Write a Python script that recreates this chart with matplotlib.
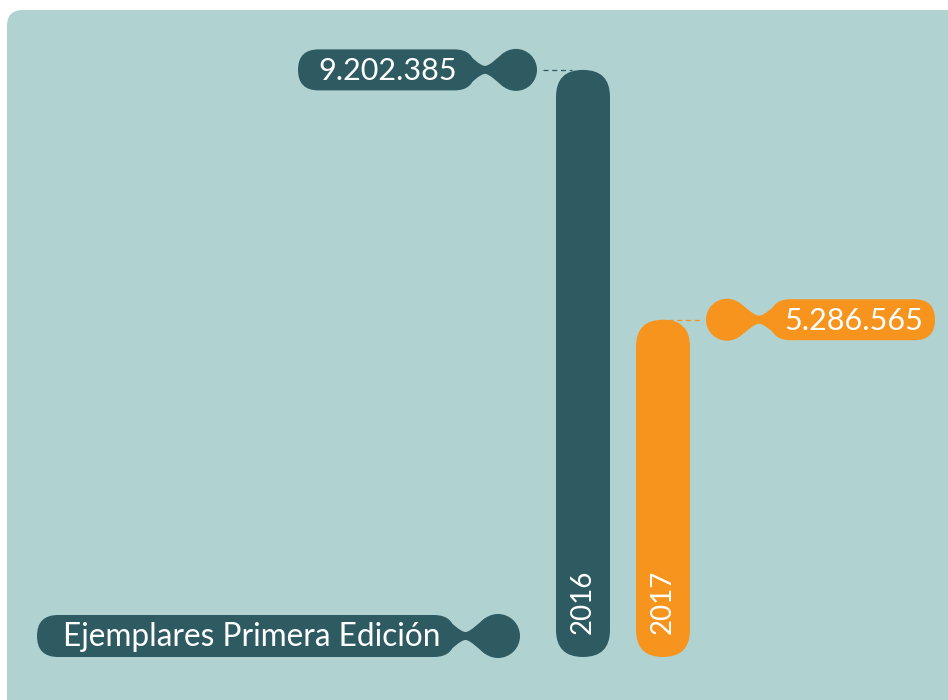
import matplotlib
matplotlib.use("Agg")
import numpy as np
import matplotlib.pyplot as plt
from matplotlib.patches import FancyBboxPatch, Circle, PathPatch
from matplotlib.path import Path
from matplotlib.lines import Line2D
from matplotlib.transforms import IdentityTransform

years = ["2016", "2017"]
values = [9202385, 5286565]
labels = ["9.202.385", "5.286.565"]
legend_label = "Ejemplares Primera Edición"

BG = "#b0d3d2"
DARK = "#2e5a61"
ORANGE = "#f7941e"
colors = [DARK, ORANGE]
FONT = "Lato"

W, H = 948, 700
fig = plt.figure(figsize=(W / 100, H / 100), dpi=100, facecolor="white")
I = IdentityTransform()

# background panel
fig.add_artist(FancyBboxPatch((7, -60), 1100, 750, boxstyle="round,pad=0,rounding_size=16",
                              fc=BG, ec="none", transform=I, zorder=0))

ax = fig.add_axes([0, 43 / 700, 1, 638 / 700])
ax.set_xlim(-583 / 80, 365 / 80)
ax.set_ylim(0, 1e7)
ax.axis("off")
ax.patch.set_visible(False)

BW = 54  # bar width in pixels
R = BW / 2


def neck_path(lcx, lr, rcx, rr, cy, neck=4.0, alpha=np.radians(55), L=6.0, L2=5.0):
    """Smooth neck between a left circle (lcx, lr) and a right circle (rcx, rr)."""
    sa, ca = np.sin(alpha), np.cos(alpha)
    xm = ((lcx + lr) + (rcx - rr)) / 2
    verts, codes = [], []
    for sgn in (1, -1):
        pl = np.array([lcx + lr * ca, cy + sgn * lr * sa])
        pr = np.array([rcx - rr * ca, cy + sgn * rr * sa])
        m = np.array([xm, cy + sgn * neck])
        if sgn == 1:
            seq = [pl, pl + L * np.array([sa, -sgn * ca]), m - [L2, 0], m,
                   m + [L2, 0], pr - L * np.array([sa, sgn * ca]), pr]
            verts += [tuple(p) for p in seq]
            codes += [Path.MOVETO] + [Path.CURVE4] * 6
        else:
            seq = [pr, pr - L * np.array([sa, sgn * ca]), m + [L2, 0], m,
                   m - [L2, 0], pl + L * np.array([sa, -sgn * ca]), pl]
            verts += [tuple(p) for p in seq]
            codes += [Path.LINETO] + [Path.CURVE4] * 6
    verts.append(verts[0])
    codes.append(Path.CLOSEPOLY)
    return Path(verts, codes)


def bubble(pill_l, pill_r, cx, cy, color, r_c=21, h=41, z=3):
    r_p = h / 2
    fig.add_artist(FancyBboxPatch((pill_l, cy - r_p), pill_r - pill_l, h,
                                  boxstyle=f"round,pad=0,rounding_size={r_p}",
                                  fc=color, ec="none", transform=I, zorder=z))
    fig.add_artist(Circle((cx, cy), r_c, fc=color, ec="none", transform=I, zorder=z))
    if pill_r < cx:
        p = neck_path(pill_r - r_p, r_p, cx, r_c, cy)
    else:
        p = neck_path(cx, r_c, pill_l + r_p, r_p, cy)
    fig.add_artist(PathPatch(p, fc=color, ec="none", transform=I, zorder=z))


for i, (yr, v, lab, c) in enumerate(zip(years, values, labels, colors)):
    xc, y0 = ax.transData.transform((i, 0))
    _, y1 = ax.transData.transform((i, v))
    fig.add_artist(FancyBboxPatch((xc - R, y0), BW, y1 - y0,
                                  boxstyle=f"round,pad=0,rounding_size={R}",
                                  fc=c, ec="none", transform=I, zorder=4))
    fig.text(xc, y0 + 23, yr, rotation=90, ha="center", va="bottom", color="white",
             fontsize=20, family=FONT, transform=I, zorder=5)
    if i == 0:
        cx = xc - R - 40
        pill_r = cx - 41
        pill_l = pill_r - 177
        bubble(pill_l, pill_r, cx, y1, c)
        fig.add_artist(Line2D([cx + 27, xc - 11], [y1, y1], color=c, lw=0.9,
                              ls=(0, (4, 3)), transform=I, zorder=2))
    else:
        cx = xc + R + 37
        pill_l = cx + 43
        pill_r = pill_l + 165
        bubble(pill_l, pill_r, cx, y1, c)
        fig.add_artist(Line2D([xc + 5, cx - 25], [y1, y1], color=c, lw=0.9,
                              ls=(0, (4, 3)), transform=I, zorder=2))
    fig.text((pill_l + pill_r) / 2 + 1, y1 - 1, lab, ha="center", va="center", color="white",
             fontsize=22, family=FONT, transform=I, zorder=5)

# legend bubble
ly = H - 636
bubble(37, 455, 498, ly, DARK, r_c=22, h=42)
fig.text(63, ly - 1, legend_label, ha="left", va="center", color="white",
         fontsize=22.8, family=FONT, transform=I, zorder=5)

fig.savefig("out.png", dpi=100, facecolor="white")
